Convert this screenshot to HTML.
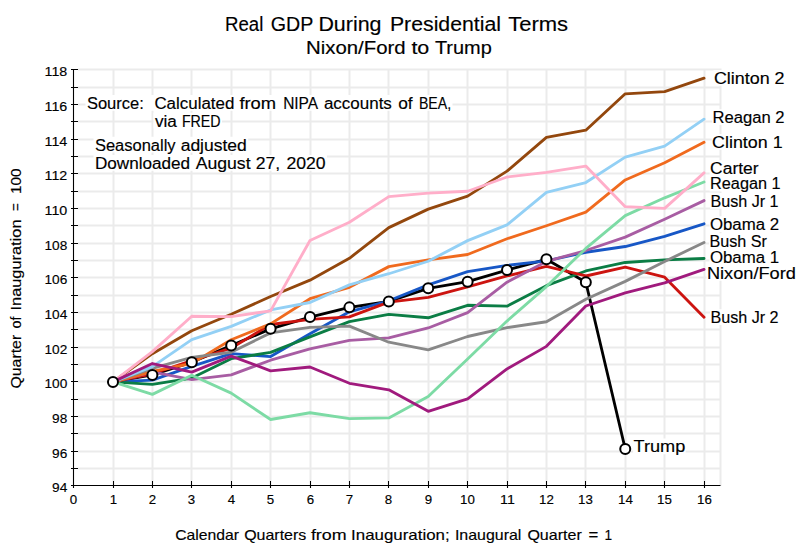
<!DOCTYPE html>
<html><head><meta charset="utf-8"><title>Real GDP During Presidential Terms</title>
<style>html,body{margin:0;padding:0;background:#fff;}body{width:800px;height:550px;overflow:hidden;}svg{display:block;}text{font-family:"Liberation Sans",sans-serif;fill:#000;stroke:#000;stroke-width:0.15px;}</style></head><body>
<svg width="800" height="550" viewBox="0 0 800 550">
<rect width="800" height="550" fill="#fff"/>
<path d="M78 468.50H721 M78 451.50H721 M78 433.50H721 M78 416.50H721 M78 399.50H721 M78 381.50H721 M78 364.50H721 M78 347.50H721 M78 329.50H721 M78 312.50H721 M78 295.50H721 M78 277.50H721 M78 260.50H721 M78 243.50H721 M78 225.50H721 M78 208.50H721 M78 191.50H721 M78 173.50H721 M78 156.50H721 M78 139.50H721 M78 121.50H721 M78 104.50H721 M78 87.50H721 M78 69.50H721 M113.50 68.5V481 M152.50 68.5V481 M191.50 68.5V481 M231.50 68.5V481 M270.50 68.5V481 M310.50 68.5V481 M349.50 68.5V481 M388.50 68.5V481 M428.50 68.5V481 M467.50 68.5V481 M507.50 68.5V481 M546.50 68.5V481 M585.50 68.5V481 M625.50 68.5V481 M664.50 68.5V481 M704.50 68.5V481 M720.5 68.5V486" stroke="#ebebeb" stroke-width="2" fill="none"/>
<polyline points="112.98,381.90 152.39,374.97 191.79,362.14 231.20,345.50 270.60,328.86 310.00,317.07 349.41,307.37 388.81,301.47 428.22,288.30 467.62,281.71 507.02,270.10 546.43,259.35 585.83,282.23 625.24,448.98" fill="none" stroke="#000000" stroke-width="2.85" stroke-linejoin="round" stroke-linecap="round"/>
<polyline points="112.98,381.90 152.39,380.17 191.79,366.30 231.20,353.65 270.60,356.59 310.00,333.71 349.41,311.87 388.81,300.78 428.22,284.83 467.62,271.66 507.02,265.42 546.43,260.91 585.83,252.25 625.24,246.53 664.64,236.30 704.04,223.82" fill="none" stroke="#1757c6" stroke-width="2.85" stroke-linejoin="round" stroke-linecap="round"/>
<polyline points="112.98,381.90 152.39,384.33 191.79,378.09 231.20,358.67 270.60,352.43 310.00,336.83 349.41,321.58 388.81,314.30 428.22,317.77 467.62,305.29 507.02,306.15 546.43,285.70 585.83,270.97 625.24,262.47 664.64,259.87 704.04,258.49" fill="none" stroke="#0b7d45" stroke-width="2.85" stroke-linejoin="round" stroke-linecap="round"/>
<polyline points="112.98,381.90 152.39,373.75 191.79,360.58 231.20,348.10 270.60,324.53 310.00,319.33 349.41,316.90 388.81,302.17 428.22,297.31 467.62,286.91 507.02,275.99 546.43,266.29 585.83,275.99 625.24,267.15 664.64,277.21 704.04,317.25" fill="none" stroke="#cc1410" stroke-width="2.85" stroke-linejoin="round" stroke-linecap="round"/>
<polyline points="112.98,381.90 152.39,371.85 191.79,379.65 231.20,374.79 270.60,360.23 310.00,348.97 349.41,340.30 388.81,337.87 428.22,327.99 467.62,312.57 507.02,282.23 546.43,261.43 585.83,250.51 625.24,237.17 664.64,219.31 704.04,200.59" fill="none" stroke="#a85da3" stroke-width="2.85" stroke-linejoin="round" stroke-linecap="round"/>
<polyline points="112.98,381.90 152.39,353.65 191.79,330.77 231.20,314.30 270.60,296.45 310.00,280.15 349.41,258.31 388.81,227.63 428.22,209.09 467.62,196.09 507.02,171.13 546.43,137.33 585.83,130.22 625.24,93.82 664.64,91.57 704.04,78.22" fill="none" stroke="#93470d" stroke-width="2.85" stroke-linejoin="round" stroke-linecap="round"/>
<polyline points="112.98,381.90 152.39,371.50 191.79,363.35 231.20,339.78 270.60,323.83 310.00,298.70 349.41,287.26 388.81,266.63 428.22,259.87 467.62,254.50 507.02,238.73 546.43,225.73 585.83,212.03 625.24,179.97 664.64,162.81 704.04,142.35" fill="none" stroke="#f06a1e" stroke-width="2.85" stroke-linejoin="round" stroke-linecap="round"/>
<polyline points="112.98,381.90 152.39,368.38 191.79,357.29 231.20,352.26 270.60,332.85 310.00,327.30 349.41,326.09 388.81,342.21 428.22,349.83 467.62,336.49 507.02,327.65 546.43,321.75 585.83,299.22 625.24,281.37 664.64,261.43 704.04,242.54" fill="none" stroke="#888888" stroke-width="2.85" stroke-linejoin="round" stroke-linecap="round"/>
<polyline points="112.98,381.90 152.39,366.65 191.79,339.61 231.20,326.43 270.60,309.97 310.00,302.51 349.41,284.83 388.81,273.74 428.22,261.26 467.62,240.63 507.02,224.86 546.43,192.45 585.83,182.57 625.24,157.09 664.64,146.17 704.04,119.13" fill="none" stroke="#93d0f5" stroke-width="2.85" stroke-linejoin="round" stroke-linecap="round"/>
<polyline points="112.98,381.90 152.39,394.38 191.79,375.31 231.20,393.17 270.60,419.51 310.00,412.75 349.41,418.65 388.81,417.95 428.22,396.46 467.62,359.02 507.02,321.06 546.43,286.57 585.83,248.43 625.24,215.67 664.64,197.82 704.04,182.05" fill="none" stroke="#7ddba5" stroke-width="2.85" stroke-linejoin="round" stroke-linecap="round"/>
<polyline points="112.98,381.90 152.39,351.57 191.79,316.21 231.20,316.55 270.60,310.83 310.00,240.46 349.41,222.26 388.81,196.61 428.22,193.14 467.62,191.23 507.02,177.02 546.43,172.34 585.83,166.10 625.24,206.66 664.64,208.39 704.04,172.86" fill="none" stroke="#ffaec9" stroke-width="2.85" stroke-linejoin="round" stroke-linecap="round"/>
<polyline points="112.98,381.90 152.39,363.53 191.79,372.19 231.20,356.07 270.60,370.81 310.00,366.99 349.41,383.29 388.81,389.87 428.22,411.37 467.62,398.89 507.02,368.90 546.43,346.37 585.83,305.98 625.24,292.81 664.64,282.93 704.04,269.41" fill="none" stroke="#a01a7d" stroke-width="2.85" stroke-linejoin="round" stroke-linecap="round"/>
<path d="M73.5 69V488 M71 485.5H720.5 M71 468.50H78 M71 451.50H78 M71 433.50H78 M71 416.50H78 M71 399.50H78 M71 381.50H78 M71 364.50H78 M71 347.50H78 M71 329.50H78 M71 312.50H78 M71 295.50H78 M71 277.50H78 M71 260.50H78 M71 243.50H78 M71 225.50H78 M71 208.50H78 M71 191.50H78 M71 173.50H78 M71 156.50H78 M71 139.50H78 M71 121.50H78 M71 104.50H78 M71 87.50H78 M71 69.50H78 M113.50 481V488 M152.50 481V488 M191.50 481V488 M231.50 481V488 M270.50 481V488 M310.50 481V488 M349.50 481V488 M388.50 481V488 M428.50 481V488 M467.50 481V488 M507.50 481V488 M546.50 481V488 M585.50 481V488 M625.50 481V488 M664.50 481V488 M704.50 481V488" stroke="#000" stroke-width="1.1" fill="none"/>
<circle cx="112.98" cy="381.90" r="5" fill="#fff" stroke="#000" stroke-width="2"/>
<circle cx="152.39" cy="374.97" r="5" fill="#fff" stroke="#000" stroke-width="2"/>
<circle cx="191.79" cy="362.14" r="5" fill="#fff" stroke="#000" stroke-width="2"/>
<circle cx="231.20" cy="345.50" r="5" fill="#fff" stroke="#000" stroke-width="2"/>
<circle cx="270.60" cy="328.86" r="5" fill="#fff" stroke="#000" stroke-width="2"/>
<circle cx="310.00" cy="317.07" r="5" fill="#fff" stroke="#000" stroke-width="2"/>
<circle cx="349.41" cy="307.37" r="5" fill="#fff" stroke="#000" stroke-width="2"/>
<circle cx="388.81" cy="301.47" r="5" fill="#fff" stroke="#000" stroke-width="2"/>
<circle cx="428.22" cy="288.30" r="5" fill="#fff" stroke="#000" stroke-width="2"/>
<circle cx="467.62" cy="281.71" r="5" fill="#fff" stroke="#000" stroke-width="2"/>
<circle cx="507.02" cy="270.10" r="5" fill="#fff" stroke="#000" stroke-width="2"/>
<circle cx="546.43" cy="259.35" r="5" fill="#fff" stroke="#000" stroke-width="2"/>
<circle cx="585.83" cy="282.23" r="5" fill="#fff" stroke="#000" stroke-width="2"/>
<circle cx="625.24" cy="448.98" r="5" fill="#fff" stroke="#000" stroke-width="2"/>
<path d="M85.50 94.95H452.50V110.75H85.50Z M153.50 112.70H222.00V128.50H153.50Z M93.50 136.70H248.25V152.50H93.50Z M93.50 154.95H327.00V170.75H93.50Z M713.50 70.00H785.00V85.80H713.50Z M712.20 109.20H785.00V125.00H712.20Z M711.70 134.00H783.00V149.80H711.70Z M709.70 160.20H759.00V176.00H709.70Z M709.70 175.60H781.00V191.40H709.70Z M710.00 192.90H779.00V208.70H710.00Z M709.50 216.30H779.50V232.10H709.50Z M709.00 233.20H767.30V249.00H709.00Z M709.50 249.20H779.50V265.00H709.50Z M706.50 265.00H796.30V280.80H706.50Z M710.00 309.20H779.00V325.00H710.00Z M633.10 438.50H685.70V454.30H633.10Z" fill="#fff"/>
<text x="225.0" y="30.75" font-size="20" textLength="38.35" lengthAdjust="spacingAndGlyphs">Real</text>
<text x="270.7" y="30.75" font-size="20" textLength="42.6" lengthAdjust="spacingAndGlyphs">GDP</text>
<text x="318.4" y="30.75" font-size="20" textLength="63.1" lengthAdjust="spacingAndGlyphs">During</text>
<text x="389.9" y="30.75" font-size="20" textLength="111.2" lengthAdjust="spacingAndGlyphs">Presidential</text>
<text x="508.15" y="30.75" font-size="20" textLength="59.95" lengthAdjust="spacingAndGlyphs">Terms</text>
<text x="306.0" y="54.4" font-size="17.5" textLength="99.6" lengthAdjust="spacingAndGlyphs">Nixon/Ford</text>
<text x="411.4" y="54.4" font-size="17.5" textLength="17.95" lengthAdjust="spacingAndGlyphs">to</text>
<text x="434.9" y="54.4" font-size="17.5" textLength="56.95" lengthAdjust="spacingAndGlyphs">Trump</text>
<text x="86.9" y="108.75" font-size="16" textLength="56.9" lengthAdjust="spacingAndGlyphs">Source:</text>
<text x="154.4" y="108.75" font-size="16" textLength="79.95" lengthAdjust="spacingAndGlyphs">Calculated</text>
<text x="239.4" y="108.75" font-size="16" textLength="36.7" lengthAdjust="spacingAndGlyphs">from</text>
<text x="283.15" y="108.75" font-size="16" textLength="34.95" lengthAdjust="spacingAndGlyphs">NIPA</text>
<text x="323.9" y="108.75" font-size="16" textLength="67.95" lengthAdjust="spacingAndGlyphs">accounts</text>
<text x="398.15" y="108.75" font-size="16" textLength="14.45" lengthAdjust="spacingAndGlyphs">of</text>
<text x="418.9" y="108.75" font-size="16" textLength="32.2" lengthAdjust="spacingAndGlyphs">BEA,</text>
<text x="154.9" y="126.5" font-size="16" textLength="21.95" lengthAdjust="spacingAndGlyphs">via</text>
<text x="181.9" y="126.5" font-size="16" textLength="38.7" lengthAdjust="spacingAndGlyphs">FRED</text>
<text x="94.9" y="150.5" font-size="16" textLength="80.7" lengthAdjust="spacingAndGlyphs">Seasonally</text>
<text x="180.65" y="150.5" font-size="16" textLength="66.2" lengthAdjust="spacingAndGlyphs">adjusted</text>
<text x="94.9" y="168.75" font-size="16" textLength="95.2" lengthAdjust="spacingAndGlyphs">Downloaded</text>
<text x="195.65" y="168.75" font-size="16" textLength="54.95" lengthAdjust="spacingAndGlyphs">August</text>
<text x="255.65" y="168.75" font-size="16" textLength="24.45" lengthAdjust="spacingAndGlyphs">27,</text>
<text x="286.4" y="168.75" font-size="16" textLength="39.2" lengthAdjust="spacingAndGlyphs">2020</text>
<text x="52.099999999999994" y="491.8" font-size="13.5" textLength="15.2" lengthAdjust="spacingAndGlyphs">94</text>
<text x="52.099999999999994" y="457.8" font-size="13.5" textLength="15.2" lengthAdjust="spacingAndGlyphs">96</text>
<text x="52.099999999999994" y="422.8" font-size="13.5" textLength="15.2" lengthAdjust="spacingAndGlyphs">98</text>
<text x="44.5" y="387.8" font-size="13.5" textLength="22.8" lengthAdjust="spacingAndGlyphs">100</text>
<text x="44.5" y="353.8" font-size="13.5" textLength="22.8" lengthAdjust="spacingAndGlyphs">102</text>
<text x="44.5" y="318.8" font-size="13.5" textLength="22.8" lengthAdjust="spacingAndGlyphs">104</text>
<text x="44.5" y="283.8" font-size="13.5" textLength="22.8" lengthAdjust="spacingAndGlyphs">106</text>
<text x="44.5" y="249.8" font-size="13.5" textLength="22.8" lengthAdjust="spacingAndGlyphs">108</text>
<text x="44.5" y="214.8" font-size="13.5" textLength="22.8" lengthAdjust="spacingAndGlyphs">110</text>
<text x="44.5" y="179.8" font-size="13.5" textLength="22.8" lengthAdjust="spacingAndGlyphs">112</text>
<text x="44.5" y="145.8" font-size="13.5" textLength="22.8" lengthAdjust="spacingAndGlyphs">114</text>
<text x="44.5" y="110.8" font-size="13.5" textLength="22.8" lengthAdjust="spacingAndGlyphs">116</text>
<text x="44.5" y="75.8" font-size="13.5" textLength="22.8" lengthAdjust="spacingAndGlyphs">118</text>
<text x="69.8" y="503.75" font-size="13.5" textLength="7.4" lengthAdjust="spacingAndGlyphs">0</text>
<text x="109.8" y="503.75" font-size="13.5" textLength="7.4" lengthAdjust="spacingAndGlyphs">1</text>
<text x="148.8" y="503.75" font-size="13.5" textLength="7.4" lengthAdjust="spacingAndGlyphs">2</text>
<text x="187.8" y="503.75" font-size="13.5" textLength="7.4" lengthAdjust="spacingAndGlyphs">3</text>
<text x="227.8" y="503.75" font-size="13.5" textLength="7.4" lengthAdjust="spacingAndGlyphs">4</text>
<text x="266.8" y="503.75" font-size="13.5" textLength="7.4" lengthAdjust="spacingAndGlyphs">5</text>
<text x="306.8" y="503.75" font-size="13.5" textLength="7.4" lengthAdjust="spacingAndGlyphs">6</text>
<text x="345.8" y="503.75" font-size="13.5" textLength="7.4" lengthAdjust="spacingAndGlyphs">7</text>
<text x="384.8" y="503.75" font-size="13.5" textLength="7.4" lengthAdjust="spacingAndGlyphs">8</text>
<text x="424.8" y="503.75" font-size="13.5" textLength="7.4" lengthAdjust="spacingAndGlyphs">9</text>
<text x="460.1" y="503.75" font-size="13.5" textLength="14.8" lengthAdjust="spacingAndGlyphs">10</text>
<text x="500.1" y="503.75" font-size="13.5" textLength="14.8" lengthAdjust="spacingAndGlyphs">11</text>
<text x="539.1" y="503.75" font-size="13.5" textLength="14.8" lengthAdjust="spacingAndGlyphs">12</text>
<text x="578.1" y="503.75" font-size="13.5" textLength="14.8" lengthAdjust="spacingAndGlyphs">13</text>
<text x="618.1" y="503.75" font-size="13.5" textLength="14.8" lengthAdjust="spacingAndGlyphs">14</text>
<text x="657.1" y="503.75" font-size="13.5" textLength="14.8" lengthAdjust="spacingAndGlyphs">15</text>
<text x="697.1" y="503.75" font-size="13.5" textLength="14.8" lengthAdjust="spacingAndGlyphs">16</text>
<text x="175.15" y="539.5" font-size="15" textLength="63.85" lengthAdjust="spacingAndGlyphs">Calendar</text>
<text x="244.15" y="539.5" font-size="15" textLength="62.15" lengthAdjust="spacingAndGlyphs">Quarters</text>
<text x="310.9" y="539.5" font-size="15" textLength="35.7" lengthAdjust="spacingAndGlyphs">from</text>
<text x="351.1" y="539.5" font-size="15" textLength="98.5" lengthAdjust="spacingAndGlyphs">Inauguration;</text>
<text x="454.9" y="539.5" font-size="15" textLength="66.5" lengthAdjust="spacingAndGlyphs">Inaugural</text>
<text x="527.4" y="539.5" font-size="15" textLength="54.4" lengthAdjust="spacingAndGlyphs">Quarter</text>
<text x="588.4" y="539.5" font-size="15" textLength="9.8" lengthAdjust="spacingAndGlyphs">=</text>
<text x="604.4" y="539.5" font-size="15" textLength="7.6" lengthAdjust="spacingAndGlyphs">1</text>
<text transform="translate(21 388.6) rotate(-90)" font-size="15" textLength="53.80" lengthAdjust="spacingAndGlyphs">Quarter</text>
<text transform="translate(21 328.6) rotate(-90)" font-size="15" textLength="12.00" lengthAdjust="spacingAndGlyphs">of</text>
<text transform="translate(21 310.5) rotate(-90)" font-size="15" textLength="91.00" lengthAdjust="spacingAndGlyphs">Inauguration</text>
<text transform="translate(21 211.1) rotate(-90)" font-size="15" textLength="7.90" lengthAdjust="spacingAndGlyphs">=</text>
<text transform="translate(21 194.1) rotate(-90)" font-size="15" textLength="25.50" lengthAdjust="spacingAndGlyphs">100</text>
<text x="713.9" y="83.8" font-size="16" textLength="70.7" lengthAdjust="spacingAndGlyphs">Clinton 2</text>
<text x="712.6" y="123.0" font-size="16" textLength="72.0" lengthAdjust="spacingAndGlyphs">Reagan 2</text>
<text x="712.1" y="147.8" font-size="16" textLength="70.5" lengthAdjust="spacingAndGlyphs">Clinton 1</text>
<text x="710.1" y="174" font-size="16" textLength="48.5" lengthAdjust="spacingAndGlyphs">Carter</text>
<text x="710.1" y="189.4" font-size="16" textLength="70.5" lengthAdjust="spacingAndGlyphs">Reagan 1</text>
<text x="710.4" y="206.7" font-size="16" textLength="68.2" lengthAdjust="spacingAndGlyphs">Bush Jr 1</text>
<text x="709.9" y="230.1" font-size="16" textLength="69.2" lengthAdjust="spacingAndGlyphs">Obama 2</text>
<text x="709.4" y="247.0" font-size="16" textLength="57.5" lengthAdjust="spacingAndGlyphs">Bush Sr</text>
<text x="709.9" y="263.0" font-size="16" textLength="69.2" lengthAdjust="spacingAndGlyphs">Obama 1</text>
<text x="706.9" y="278.8" font-size="16" textLength="89.0" lengthAdjust="spacingAndGlyphs">Nixon/Ford</text>
<text x="710.4" y="323" font-size="16" textLength="68.2" lengthAdjust="spacingAndGlyphs">Bush Jr 2</text>
<text x="633.5" y="452.3" font-size="16" textLength="51.8" lengthAdjust="spacingAndGlyphs">Trump</text>
</svg></body></html>
